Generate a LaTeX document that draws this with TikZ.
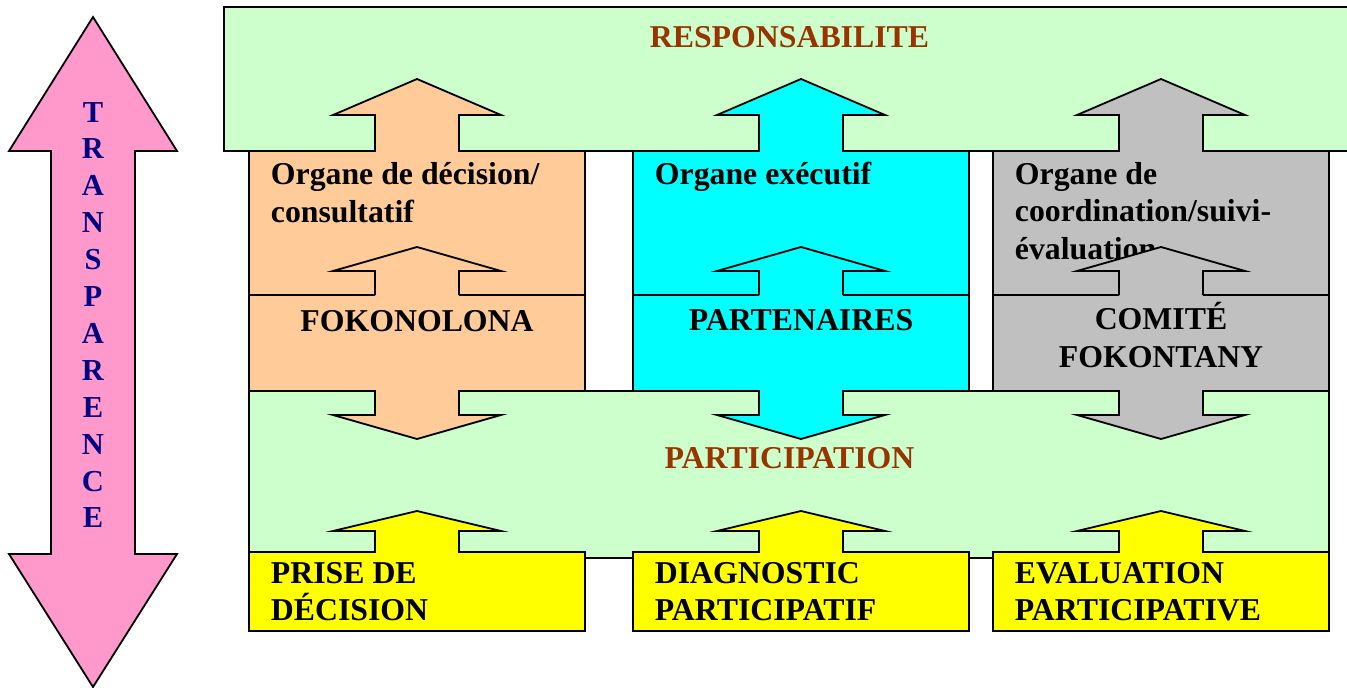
\documentclass[tikz,border=0pt]{standalone}
\usepackage{fontspec}
\setmainfont{Liberation Serif}
\definecolor{lgreen}{HTML}{CCFFCC}
\definecolor{peach}{HTML}{FFCC99}
\definecolor{aqua}{HTML}{00FFFF}
\definecolor{lgray}{HTML}{C0C0C0}
\definecolor{yel}{HTML}{FFFF00}
\definecolor{pinkc}{HTML}{FF99CC}
\definecolor{rust}{HTML}{993300}
\definecolor{navyc}{HTML}{000080}
\newcommand\colshape[1]{%
  \filldraw[fill=#1] (0,151) -- (126,151) -- (126,115) -- (84,115) -- (168,79) -- (252,115) -- (210,115) -- (210,151) -- (336,151) -- (336,391) -- (210,391) -- (210,415) -- (252,415) -- (168,439) -- (84,415) -- (126,415) -- (126,391) -- (0,391) -- cycle;
  \draw (0,295) -- (126,295) (210,295) -- (336,295);}
\newcommand\innerarrow[1]{%
  \fill[#1] (126,295) -- (126,271) -- (84,271) -- (168,247) -- (252,271) -- (210,271) -- (210,295) -- cycle;
  \draw (126,295) -- (126,271) -- (84,271) -- (168,247) -- (252,271) -- (210,271) -- (210,295);}
\newcommand\yelbox{%
  \filldraw[fill=yel] (0,552) -- (126,552) -- (126,531) -- (84,531) -- (168,511) -- (252,531) -- (210,531) -- (210,552) -- (336,552) -- (336,631) -- (0,631) -- cycle;}
\begin{document}
\begin{tikzpicture}[x=1pt,y=-1pt,line width=1.8pt,line join=miter,
  txt/.style={inner sep=0pt,font=\fontsize{31.8}{37}\selectfont\bfseries,anchor=base west},
  ctxt/.style={txt,anchor=base},
  ltr/.style={inner sep=0pt,font=\fontsize{30.5}{36}\selectfont\bfseries,anchor=base,text=navyc}]
\useasboundingbox (0,0) rectangle (1347,688);
\clip (0,0) rectangle (1347,688);
% transparence arrow
\filldraw[fill=pinkc] (93,17) -- (177,151) -- (135,151) -- (135,554) -- (177,554) -- (93,687) -- (9,554) -- (51,554) -- (51,151) -- (9,151) -- cycle;
\foreach \l [count=\i from 0] in {T,R,A,N,S,P,A,R,E,N,C,E}
  \node[ltr] (t\i) at (93,{122+36.9*\i}) {\l};
% green bands
\filldraw[fill=lgreen] (224,7) rectangle (1370,151);
\filldraw[fill=lgreen] (249,391) rectangle (1329,558);
\node[ctxt,text=rust] (resp) at (789.5,47) {RESPONSABILITE};
\node[ctxt,text=rust] (part) at (789.5,468) {PARTICIPATION};
% column 1
\begin{scope}[shift={(249,0)}]
  \colshape{peach}
  \node[txt] (o1a) at (21,184) {Organe de décision/};
  \node[txt] (o1b) at (21,222) {consultatif};
  \innerarrow{peach}
  \node[ctxt] (fok) at (168,331) {FOKONOLONA};
  \yelbox
  \node[txt] (y1a) at (21,583) {PRISE DE};
  \node[txt] (y1b) at (21,620) {DÉCISION};
\end{scope}
% column 2
\begin{scope}[shift={(633,0)}]
  \colshape{aqua}
  \node[txt] (o2a) at (21,184) {Organe exécutif};
  \innerarrow{aqua}
  \node[ctxt] (parten) at (168,330) {PARTENAIRES};
  \yelbox
  \node[txt] (y2a) at (21,583) {DIAGNOSTIC};
  \node[txt] (y2b) at (21,620) {PARTICIPATIF};
\end{scope}
% column 3
\begin{scope}[shift={(993,0)}]
  \colshape{lgray}
  \node[txt] (o3a) at (21,184) {Organe de};
  \node[txt] (o3b) at (21,221.5) {coordination/suivi-};
  \node[txt] (o3c) at (21,259) {évaluation};
  \innerarrow{lgray}
  \node[ctxt] (com1) at (168,329) {COMITÉ};
  \node[ctxt] (com2) at (168,367) {FOKONTANY};
  \yelbox
  \node[txt] (y3a) at (21,583) {EVALUATION};
  \node[txt] (y3b) at (21,620) {PARTICIPATIVE};
\end{scope}
\end{tikzpicture}
\end{document}
